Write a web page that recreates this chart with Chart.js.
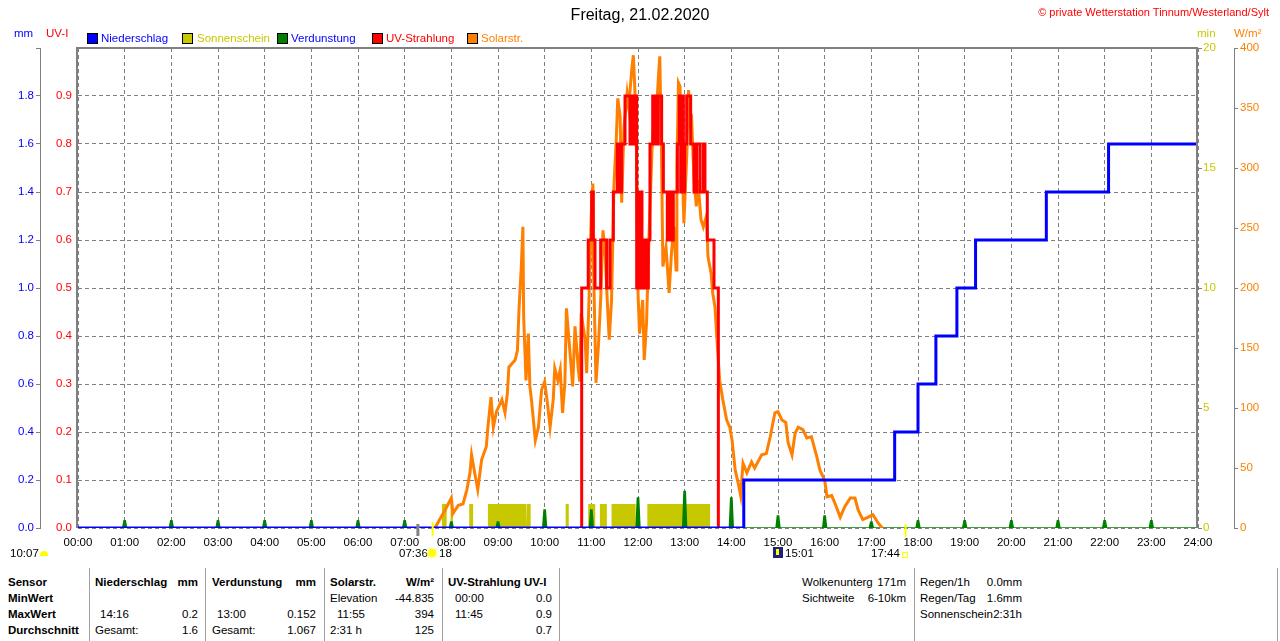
<!DOCTYPE html>
<html lang="de">
<head>
<meta charset="utf-8">
<title>Freitag, 21.02.2020</title>
<script src="https://cdn.jsdelivr.net/npm/chart.js@4.4.1/dist/chart.umd.min.js"></script>
<style>
  html, body { margin: 0; padding: 0; background: #fff; }
  #wrap { position: relative; width: 1280px; height: 641px; overflow: hidden;
          font-family: 'Liberation Sans', Arial, sans-serif; font-size: 11.5px; color: #000; }
  #c { position: absolute; left: 0; top: 0; }
  .t { position: absolute; line-height: 14px; white-space: nowrap; }
  .b { font-weight: bold; font-size: 11.5px; }
  .sq { position: absolute; top: 33px; width: 9px; height: 9px; border: 1px solid #000; }
  .vl { position: absolute; width: 1px; background: #a0a0a0; top: 568px; height: 73px; }
</style>
</head>
<body>
<div id="wrap">
  <canvas id="c" width="1280" height="560"></canvas>

  <div class="t" style="left:0;width:1280px;top:6px;text-align:center;font-size:16px;line-height:18px;">Freitag, 21.02.2020</div>
  <div class="t" style="right:11px;top:5px;color:#ff0000;font-size:11px;">© private Wetterstation Tinnum/Westerland/Sylt</div>

  <div class="t" style="left:14px;top:26px;color:#0000ff;">mm</div>
  <div class="t" style="left:46px;top:26px;color:#ff0000;">UV-I</div>
  <div class="t" style="left:1197px;top:26px;color:#c8c800;">min</div>
  <div class="t" style="left:1234px;top:26px;color:#ff8000;">W/m²</div>

  <div class="sq" style="left:87px;background:#0000ff;"></div>
  <div class="t" style="left:101px;top:31px;color:#0000ff;">Niederschlag</div>
  <div class="sq" style="left:182px;background:#c8c800;"></div>
  <div class="t" style="left:197px;top:31px;color:#c8c800;">Sonnenschein</div>
  <div class="sq" style="left:277px;background:#008000;"></div>
  <div class="t" style="left:291px;top:31px;color:#0000ff;">Verdunstung</div>
  <div class="sq" style="left:372px;background:#ff0000;"></div>
  <div class="t" style="left:386px;top:31px;color:#ff0000;">UV-Strahlung</div>
  <div class="sq" style="left:467px;background:#ff8000;"></div>
  <div class="t" style="left:481px;top:31px;color:#ff8000;">Solarstr.</div>

  <!-- Mond / Sonne unter der Zeitachse -->
  <div class="t" style="left:10px;top:546px;">10:07</div>
  <div style="position:absolute;left:40px;top:551px;width:8px;height:5px;background:#ffff00;border-radius:4px 4px 0 0;"></div>
  <div class="t" style="left:399px;top:546px;">07:36</div>
  <div style="position:absolute;left:428px;top:549px;width:8px;height:8px;background:#ffff00;border-radius:50%;box-shadow:0 0 2px 1px #ffff80;"></div>
  <div class="t" style="left:439px;top:546px;">18</div>
  <div style="position:absolute;left:773px;top:547px;width:10px;height:11px;background:#202080;"></div>
  <div style="position:absolute;left:776px;top:549px;width:3px;height:6px;background:#ffff00;"></div>
  <div class="t" style="left:785px;top:546px;">15:01</div>
  <div class="t" style="left:871px;top:546px;">17:44</div>
  <div style="position:absolute;left:902px;top:552px;width:4px;height:4px;border:1px solid #ffff00;"></div>

  <!-- Tabelle -->
  <div class="vl" style="left:89px;"></div>
  <div class="vl" style="left:205px;"></div>
  <div class="vl" style="left:324px;"></div>
  <div class="vl" style="left:442px;"></div>
  <div class="vl" style="left:559px;"></div>
  <div class="vl" style="left:914px;"></div>
  <div class="vl" style="left:1277px;"></div>

  <div class="t b" style="left:8px;top:575px;">Sensor</div>
  <div class="t b" style="left:8px;top:591px;">MinWert</div>
  <div class="t b" style="left:8px;top:607px;">MaxWert</div>
  <div class="t b" style="left:8px;top:623px;">Durchschnitt</div>

  <div class="t b" style="left:95px;top:575px;">Niederschlag</div>
  <div class="t b" style="right:1082px;top:575px;">mm</div>
  <div class="t" style="left:100px;top:607px;">14:16</div>
  <div class="t" style="right:1082px;top:607px;">0.2</div>
  <div class="t" style="left:95px;top:623px;">Gesamt:</div>
  <div class="t" style="right:1082px;top:623px;">1.6</div>

  <div class="t b" style="left:212px;top:575px;">Verdunstung</div>
  <div class="t b" style="right:964px;top:575px;">mm</div>
  <div class="t" style="left:217px;top:607px;">13:00</div>
  <div class="t" style="right:964px;top:607px;">0.152</div>
  <div class="t" style="left:212px;top:623px;">Gesamt:</div>
  <div class="t" style="right:964px;top:623px;">1.067</div>

  <div class="t b" style="left:330px;top:575px;">Solarstr.</div>
  <div class="t b" style="right:846px;top:575px;">W/m²</div>
  <div class="t" style="left:330px;top:591px;">Elevation</div>
  <div class="t" style="right:846px;top:591px;">-44.835</div>
  <div class="t" style="left:337px;top:607px;">11:55</div>
  <div class="t" style="right:846px;top:607px;">394</div>
  <div class="t" style="left:330px;top:623px;">2:31 h</div>
  <div class="t" style="right:846px;top:623px;">125</div>

  <div class="t b" style="left:448px;top:575px;">UV-Strahlung UV-I</div>
  <div class="t" style="left:455px;top:591px;">00:00</div>
  <div class="t" style="right:728px;top:591px;">0.0</div>
  <div class="t" style="left:455px;top:607px;">11:45</div>
  <div class="t" style="right:728px;top:607px;">0.9</div>
  <div class="t" style="right:728px;top:623px;">0.7</div>

  <div class="t" style="left:802px;top:575px;">Wolkenunterg</div>
  <div class="t" style="right:374px;top:575px;">171m</div>
  <div class="t" style="left:802px;top:591px;">Sichtweite</div>
  <div class="t" style="right:374px;top:591px;">6-10km</div>
  <div class="t" style="left:920px;top:575px;">Regen/1h</div>
  <div class="t" style="right:258px;top:575px;">0.0mm</div>
  <div class="t" style="left:920px;top:591px;">Regen/Tag</div>
  <div class="t" style="right:258px;top:591px;">1.6mm</div>
  <div class="t" style="left:920px;top:607px;">Sonnenschein</div>
  <div class="t" style="right:258px;top:607px;">2:31h</div>
</div>

<script>
// Zeiten in Minuten seit 00:00

// Niederschlag (Summe, mm)
const precipTimes = [0, 856, 1050, 1080, 1103, 1130, 1154, 1245, 1325, 1440];
const precipValues = [0, 0.2, 0.4, 0.6, 0.8, 1.0, 1.2, 1.4, 1.6, 1.6];

// Verdunstung (mm je Stunde)
const evapHours = [1, 2, 3, 4, 5, 6, 7, 8, 9, 10, 11, 12, 13, 14, 15, 16, 17, 18, 19, 20, 21, 22, 23];
const evapValues = [0.03, 0.03, 0.03, 0.03, 0.03, 0.03, 0.03, 0.025, 0.025, 0.075, 0.075, 0.125,
                    0.152, 0.125, 0.05, 0.05, 0.025, 0.03, 0.03, 0.03, 0.03, 0.03, 0.03];

// Sonnenschein (min)
const sunStart = [468, 479, 503, 527, 577, 627, 656, 671, 686, 732];
const sunEnd = [474, 482, 508, 576, 582, 631, 665, 680, 717, 813];
const sunValue = 1;

// UV-Strahlung (UV-I)
const uvTimes = [645, 647.6, 656, 660.4, 662.5, 664.7, 672, 679.7, 684, 688.3,
                 693.4, 696, 699, 703.3, 709.7, 711.8, 713, 715, 718.3, 720.4,
                 721.7, 723.8, 725.1, 726.8, 730.3, 733.3, 735.4, 738.9, 740.6, 742.3,
                 744, 746.1, 748.3, 750.4, 752.6, 757.7, 761.1, 763.3, 765.4, 770.6,
                 773.1, 774.9, 776.6, 778.3, 780, 782.6, 787.7, 792, 795.4, 799.7,
                 804, 806.1, 809.1, 817.7, 823.3];
const uvValues = [0, 0.5, 0.6, 0.7, 0.6, 0.5, 0.6, 0.5, 0.6, 0.7,
                  0.8, 0.7, 0.8, 0.9, 0.8, 0.9, 0.8, 0.9, 0.5, 0.7,
                  0.5, 0.7, 0.5, 0.6, 0.5, 0.6, 0.8, 0.9, 0.8, 0.9,
                  0.8, 0.9, 0.9, 0.8, 0.7, 0.6, 0.7, 0.6, 0.7, 0.8,
                  0.9, 0.7, 0.9, 0.7, 0.8, 0.9, 0.8, 0.7, 0.8, 0.7,
                  0.8, 0.7, 0.6, 0.5, 0];

// Solarstrahlung (W/m²)
const solarTimes = [459, 465, 472, 480, 482, 489, 495, 500, 504, 506,
                    510, 514, 519, 525, 527, 531, 534, 538, 545, 549,
                    552, 554, 562, 565, 567, 570, 572, 573, 576, 579,
                    581, 583, 588, 592, 596, 600, 603, 607, 611, 613,
                    617, 620, 623, 626, 628, 632, 636, 639, 643, 645,
                    647, 652, 654, 657, 660, 662, 663, 666, 669, 672,
                    675, 678, 680, 683, 686, 689, 692, 694, 697, 699,
                    702, 706, 708, 712, 714, 716, 718, 720, 722, 726,
                    728, 731, 734, 738, 740, 744, 746, 748, 750, 752,
                    756, 760, 763, 766, 769, 770, 772, 774, 776, 779,
                    783, 785, 787, 789, 792, 795, 797, 801, 804, 808,
                    810, 814, 816, 819, 821, 825, 829, 834, 838, 841,
                    845, 849, 852, 855, 860, 866, 870, 879, 885, 890,
                    896, 900, 905, 910, 913, 918, 922, 926, 932, 937,
                    943, 950, 954, 960, 963, 969, 973, 980, 986, 993,
                    999, 1003, 1009, 1016, 1022, 1029, 1034];
const solarValues = [0, 7, 15, 25, 12, 19, 20, 32, 46, 61,
                     46, 32, 57, 68, 84, 109, 84, 97, 107, 96,
                     112, 134, 140, 148, 182, 218, 251, 176, 123, 162,
                     118, 107, 73, 84, 115, 122, 107, 84, 107, 133,
                     123, 132, 96, 121, 183, 151, 118, 168, 134, 122,
                     179, 157, 129, 190, 262, 287, 212, 121, 151, 190,
                     248, 226, 196, 157, 190, 284, 323, 358, 343, 271,
                     334, 362, 351, 382, 394, 365, 315, 196, 162, 190,
                     140, 171, 240, 315, 334, 351, 373, 393, 323, 218,
                     234, 196, 229, 251, 215, 301, 371, 368, 323, 254,
                     315, 365, 337, 340, 290, 268, 290, 257, 251, 260,
                     226, 212, 196, 184, 162, 123, 107, 90, 84, 73,
                     48, 37, 27, 54, 46, 55, 50, 61, 62, 76,
                     96, 97, 90, 88, 71, 61, 79, 84, 82, 75,
                     76, 59, 48, 40, 26, 27, 21, 9, 18, 25,
                     25, 15, 7, 9, 11, 4, 0];

// Dämmerung, Sonnenaufgang, Sonnenuntergang
const dawnMin = 437;
const sunriseMin = 456;
const sunsetMin = 1064;

const toXY = (xs, ys) => xs.map((x, i) => ({x: x, y: ys[i]}));

const sunPoints = [];
sunStart.forEach((s, i) => {
    sunPoints.push({x: s, y: 0}, {x: s, y: sunValue}, {x: sunEnd[i], y: sunValue}, {x: sunEnd[i], y: 0});
});

const evapPoints = [{x: 0, y: 0}];
evapHours.forEach((h, i) => {
    evapPoints.push({x: h * 60 - 2.5, y: 0}, {x: h * 60 - 0.8, y: evapValues[i]},
                    {x: h * 60 + 0.8, y: evapValues[i]}, {x: h * 60 + 2.5, y: 0});
});
evapPoints.push({x: 1440, y: 0});

const GRID = '#808080';
Chart.defaults.font = {family: "'Liberation Sans', Arial, sans-serif", size: 11.5};

const framePlugin = {
    id: 'frame',
    afterDatasetsDraw(chart) {
        const {ctx, chartArea: a, scales} = chart;
        ctx.save();
        ctx.strokeStyle = GRID;
        ctx.lineWidth = 2;
        ctx.beginPath();
        ctx.moveTo(a.left - 1, a.bottom);
        ctx.lineTo(a.left - 1, a.top);
        ctx.lineTo(a.right - 1, a.top);
        ctx.lineTo(a.right - 1, a.bottom);
        ctx.stroke();

        const mark = (t, color, w, y1, y2) => {
            const x = scales.x.getPixelForValue(t);
            ctx.strokeStyle = color;
            ctx.lineWidth = w;
            ctx.beginPath();
            ctx.moveTo(x, a.bottom + y1);
            ctx.lineTo(x, a.bottom + y2);
            ctx.stroke();
        };
        mark(dawnMin, '#808080', 3, -4, 8);
        mark(sunriseMin, '#ffff00', 2, -6, 8);
        mark(sunsetMin, '#ffff00', 2, -4, 9);
        ctx.restore();
    }
};

new Chart(document.getElementById('c'), {
    type: 'line',
    data: {
        datasets: [
            {
                label: 'Niederschlag',
                data: toXY(precipTimes, precipValues),
                yAxisID: 'yMM',
                borderColor: '#0000ff',
                borderWidth: 3,
                stepped: 'before',
                order: 1
            },
            {
                label: 'UV-Strahlung',
                data: toXY(uvTimes, uvValues),
                yAxisID: 'yUV',
                borderColor: '#ff0000',
                borderWidth: 3,
                stepped: 'before',
                order: 2
            },
            {
                label: 'Solarstr.',
                data: toXY(solarTimes, solarValues),
                yAxisID: 'yW',
                borderColor: '#ff8000',
                borderWidth: 3,
                order: 3
            },
            {
                label: 'Verdunstung',
                data: evapPoints,
                yAxisID: 'yMM',
                borderColor: '#008000',
                backgroundColor: '#008000',
                borderWidth: 1.5,
                fill: 'origin',
                order: 4
            },
            {
                label: 'Sonnenschein',
                data: sunPoints,
                yAxisID: 'yMin',
                borderWidth: 0,
                backgroundColor: '#c8c800',
                fill: 'origin',
                order: 5
            }
        ]
    },
    options: {
        responsive: false,
        devicePixelRatio: 1,
        animation: false,
        layout: {padding: {top: 48, left: 0, right: 0, bottom: 0}},
        elements: {point: {radius: 0}, line: {tension: 0}},
        plugins: {legend: {display: false}, tooltip: {enabled: false}},
        scales: {
            x: {
                type: 'linear',
                min: 0,
                max: 1440,
                afterFit: s => { s.height = 32; },
                ticks: {
                    stepSize: 60,
                    autoSkip: false,
                    maxRotation: 0,
                    color: '#000',
                    padding: 8,
                    callback: v => String(v / 60).padStart(2, '0') + ':00'
                },
                grid: {color: GRID, drawTicks: false},
                border: {display: false, dash: [4, 3]}
            },
            yMM: {
                position: 'left',
                weight: 1,
                min: 0,
                max: 2,
                afterFit: s => { s.width = 40; },
                ticks: {
                    stepSize: 0.2,
                    color: '#0000ff',
                    padding: 2,
                    callback: v => Math.abs(v - 2) < 1e-6 ? '' : v.toFixed(1)
                },
                grid: {drawOnChartArea: false, tickLength: 4, tickColor: GRID},
                border: {color: GRID, width: 1}
            },
            yUV: {
                position: 'left',
                weight: 0,
                min: 0,
                max: 1,
                afterFit: s => { s.width = 38; },
                ticks: {
                    stepSize: 0.1,
                    color: '#ff0000',
                    padding: 6,
                    callback: v => Math.abs(v - 1) < 1e-6 ? '' : v.toFixed(1)
                },
                grid: {color: GRID, drawTicks: false},
                border: {display: false, dash: [4, 3]}
            },
            yMin: {
                position: 'right',
                weight: 0,
                min: 0,
                max: 20,
                afterFit: s => { s.width = 36; },
                ticks: {stepSize: 5, color: '#c8c800', padding: 1},
                grid: {drawOnChartArea: false, tickLength: 4, tickColor: GRID},
                border: {display: false}
            },
            yW: {
                position: 'right',
                weight: 1,
                min: 0,
                max: 400,
                afterFit: s => { s.width = 46; },
                ticks: {stepSize: 50, color: '#ff8000', padding: 2},
                grid: {drawOnChartArea: false, tickLength: 4, tickColor: GRID},
                border: {color: GRID, width: 1}
            }
        }
    },
    plugins: [framePlugin]
});
</script>
</body>
</html>
